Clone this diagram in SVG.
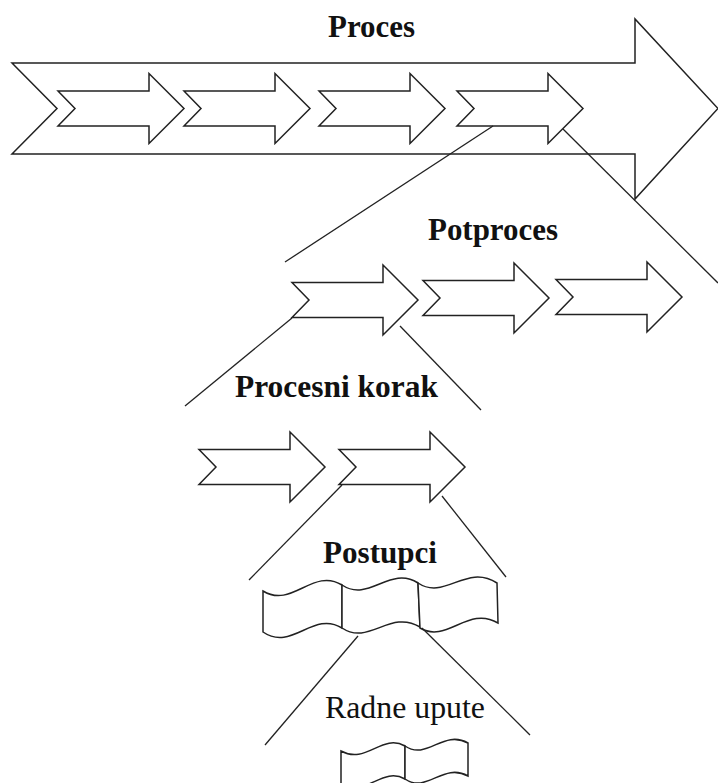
<svg xmlns="http://www.w3.org/2000/svg" xmlns:xlink="http://www.w3.org/1999/xlink" width="718" height="783" viewBox="0 0 718 783">
<style>
.shape{fill:#fff;stroke:#222;stroke-width:1.5;stroke-linejoin:miter}
.line{stroke:#222;stroke-width:1.3;fill:none}
.lbl{font-family:"Liberation Serif","Times New Roman",serif;font-size:31px;fill:#111}
.b{font-weight:bold}
</style>
<defs>
<path id="arr" class="shape" d="M0,-17.5 L91,-17.5 L91,-35 L126,0 L91,35 L91,17.5 L0,17.5 L17,0 Z"/>
</defs>
<rect width="718" height="783" fill="#fff"/>
<g id="proces">
<path class="shape" d="M12,63 L635,63 L635,19 L718,108.5 L635,199 L635,154 L12,154 L57,108.5 Z"/>
<use xlink:href="#arr" href="#arr" transform="translate(58,108.5)"/>
<use xlink:href="#arr" href="#arr" transform="translate(184,108.5)"/>
<use xlink:href="#arr" href="#arr" transform="translate(319,108.5)"/>
<use xlink:href="#arr" href="#arr" transform="translate(457,108.5)"/>
<text class="lbl b" x="328" y="37" textLength="87" lengthAdjust="spacingAndGlyphs">Proces</text>
</g>
<g id="potproces">
<use xlink:href="#arr" href="#arr" transform="translate(292,300)"/>
<use xlink:href="#arr" href="#arr" transform="translate(423,298)"/>
<use xlink:href="#arr" href="#arr" transform="translate(556,297)"/>
<text class="lbl b" x="428" y="240" textLength="130" lengthAdjust="spacingAndGlyphs">Potproces</text>
</g>
<g id="procesni-korak">
<use xlink:href="#arr" href="#arr" transform="translate(199,467)"/>
<use xlink:href="#arr" href="#arr" transform="translate(339,467)"/>
<text class="lbl b" x="235" y="397" textLength="203" lengthAdjust="spacingAndGlyphs">Procesni korak</text>
</g>
<g id="postupci">
<path class="shape" d="M263,591 C292,609 313,567 342,585 L342,628 C313,610 292,652 263,632 Z"/>
<path class="shape" d="M342,585 C369,603 390,565 418,583 L420,627 C390,609 369,646 342,628 Z"/>
<path class="shape" d="M418,583 C445,601 466,563 497,583 L498,623 C468,605 447,644 420,628 Z"/>
<text class="lbl b" x="323" y="563" textLength="114" lengthAdjust="spacingAndGlyphs">Postupci</text>
</g>
<g id="radne-upute">
<path class="shape" d="M341,751 C366,765 382,733 405,746 L405,779 C382,766 366,798 341,784 Z"/>
<path class="shape" d="M405,746 C427,761 443,729 468,743 L468,776 C443,762 427,794 405,779 Z"/>
<text class="lbl" x="325" y="718" textLength="160" lengthAdjust="spacingAndGlyphs">Radne upute</text>
</g>
<g id="connectors">
<line class="line" x1="493" y1="126" x2="285" y2="262"/>
<line class="line" x1="563" y1="129" x2="718" y2="283"/>
<line class="line" x1="292" y1="318" x2="185" y2="406"/>
<line class="line" x1="400" y1="326" x2="481" y2="410"/>
<line class="line" x1="342" y1="485" x2="249" y2="580"/>
<line class="line" x1="442" y1="496" x2="506" y2="577"/>
<line class="line" x1="358" y1="636" x2="265" y2="745"/>
<line class="line" x1="422" y1="628" x2="530" y2="735"/>
</g>
</svg>
